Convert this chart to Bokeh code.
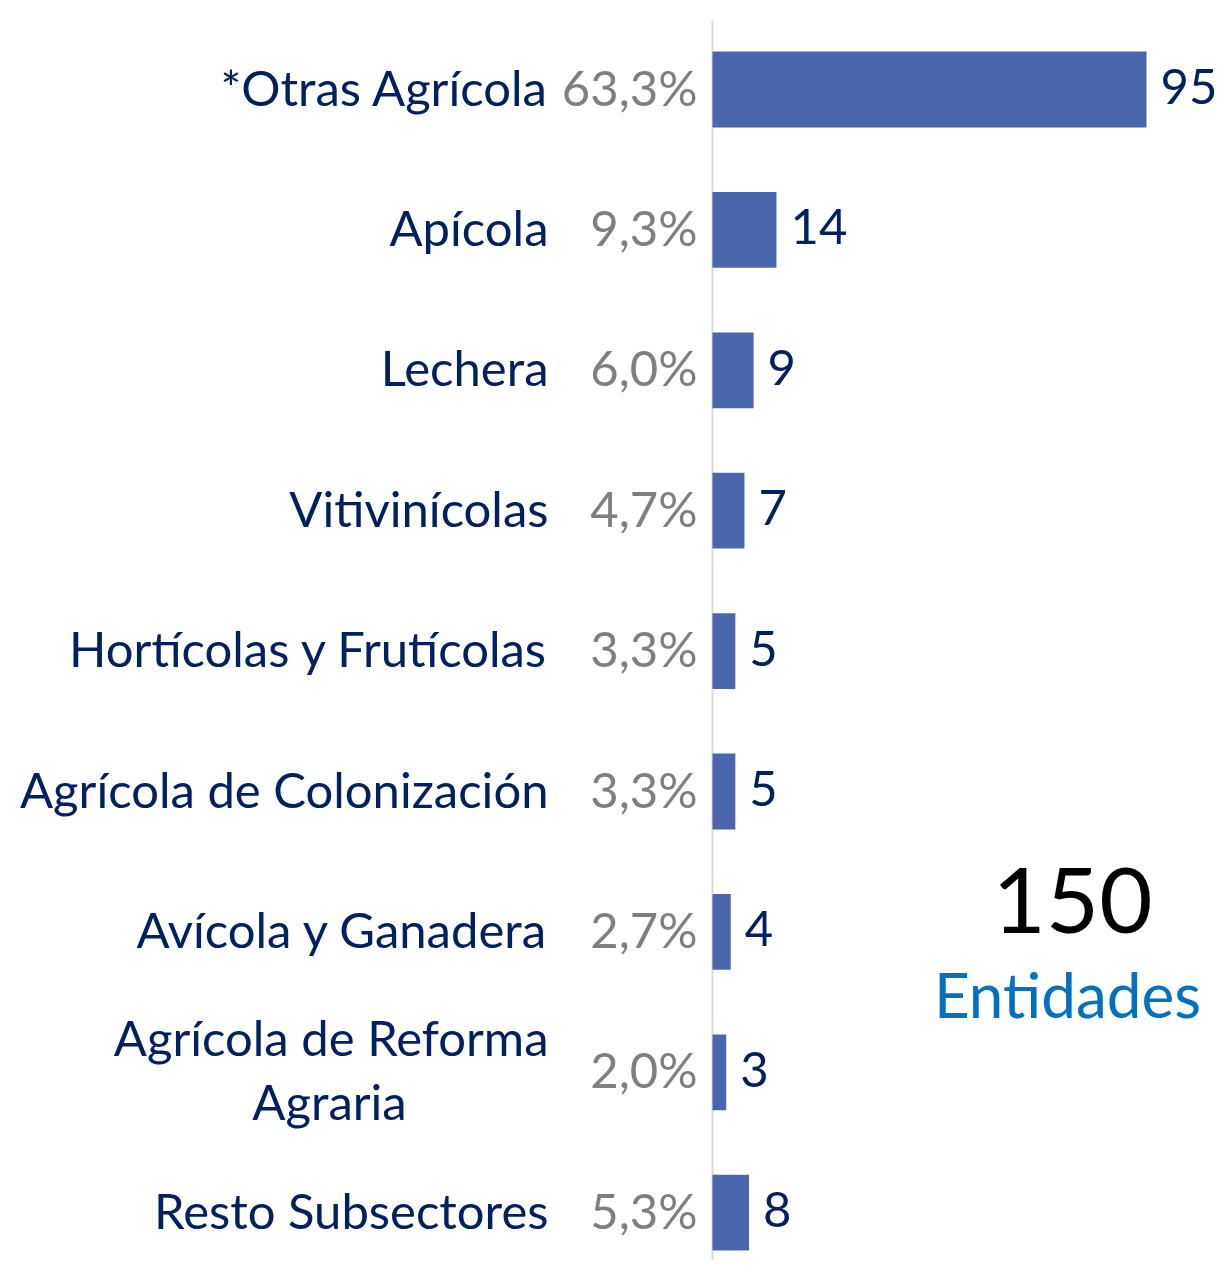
from bokeh.plotting import figure
from bokeh.models import Range1d, ColumnDataSource, Label
from bokeh.core.properties import value
from bokeh.embed import file_html
from bokeh.resources import INLINE

categories = ["*Otras Agrícola", "Apícola", "Lechera", "Vitivinícolas",
              "Hortícolas y Frutícolas", "Agrícola de Colonización",
              "Avícola y Ganadera", "Agrícola de Reforma\nAgraria", "Resto Subsectores"]
counts = [95, 14, 9, 7, 5, 5, 4, 3, 8]
percents = ["63,3%", "9,3%", "6,0%", "4,7%", "3,3%", "3,3%", "2,7%", "2,0%", "5,3%"]
total_value = "150"
total_label = "Entidades"

W, H = 1216, 1260
FONT = "Lato"
NAVY = "#002060"
GRAY = "#7f7f7f"
BAR = "#4a66ac"
FS = "49px"
DY = -3

# scale: px per unit
px_x = 434 / 95.0
x0_px = 712
px_y = 140.4
y0_px = 89

x_range = Range1d(-x0_px / px_x, (W - x0_px) / px_x)
y_range = Range1d((H - y0_px) / px_y, -y0_px / px_y)

p = figure(width=W, height=H, x_range=x_range, y_range=y_range,
           output_backend="svg", toolbar_location=None,
           min_border=0, outline_line_color=None)
p.xaxis.visible = False
p.yaxis.visible = False
p.grid.visible = False
p.background_fill_color = "white"
p.border_fill_color = "white"

ys = list(range(len(categories)))
src = ColumnDataSource(dict(y=ys, c=counts, cl=[str(c) for c in counts], pct=percents))

# vertical axis line
p.segment(x0=[0], y0=[(20 - y0_px) / px_y], x1=[0], y1=[(H - y0_px) / px_y],
          line_color="#d9d9d9", line_width=2)
p.hbar(y="y", left=0, right="c", height=0.54, source=src, fill_color=BAR, line_color=None)

p.text(x="c", y="y", text="cl", source=src, x_offset=14, y_offset=DY, text_align="left",
       text_baseline="middle", text_color=NAVY, text_font=value(FONT), text_font_size=FS)
p.text(x=0, y="y", text="pct", source=src, x_offset=-15, y_offset=DY, text_align="right",
       text_baseline="middle", text_color=GRAY, text_font=value(FONT), text_font_size=FS)

# category labels (split multiline ones: first line right aligned, later lines centered)
lab_x = -164 / px_x
single_y, single_t = [], []
for i, cat in enumerate(categories):
    parts = cat.split("\n")
    if len(parts) == 1:
        single_y.append(i)
        single_t.append(cat)
    else:
        n = len(parts)
        for j, part in enumerate(parts):
            off = (j - (n - 1) / 2) * 64 + DY
            if j == 0:
                p.text(x=[lab_x], y=[i], text=[part], y_offset=off, text_align="right",
                       text_baseline="middle", text_color=NAVY, text_font=value(FONT),
                       text_font_size=FS)
            else:
                p.text(x=[lab_x], y=[i], text=[part], y_offset=off, x_offset=-219,
                       text_align="center", text_baseline="middle", text_color=NAVY,
                       text_font=value(FONT), text_font_size=FS)
p.text(x=[lab_x] * len(single_y), y=single_y, text=single_t, y_offset=DY, text_align="right",
       text_baseline="middle", text_color=NAVY, text_font=value(FONT), text_font_size=FS)

p.add_layout(Label(x=1072, y=H - 900, x_units="screen", y_units="screen", text=total_value,
                   text_align="center", text_baseline="middle", text_color="black",
                   text_font="Lato", text_font_style="normal", text_font_size="92px"))
p.add_layout(Label(x=1067, y=H - 993, x_units="screen", y_units="screen", text=total_label,
                   text_align="center", text_baseline="middle", text_color="#0070c0",
                   text_font="Lato", text_font_size="62px"))

open("out.html", "w").write(file_html(p, INLINE))
